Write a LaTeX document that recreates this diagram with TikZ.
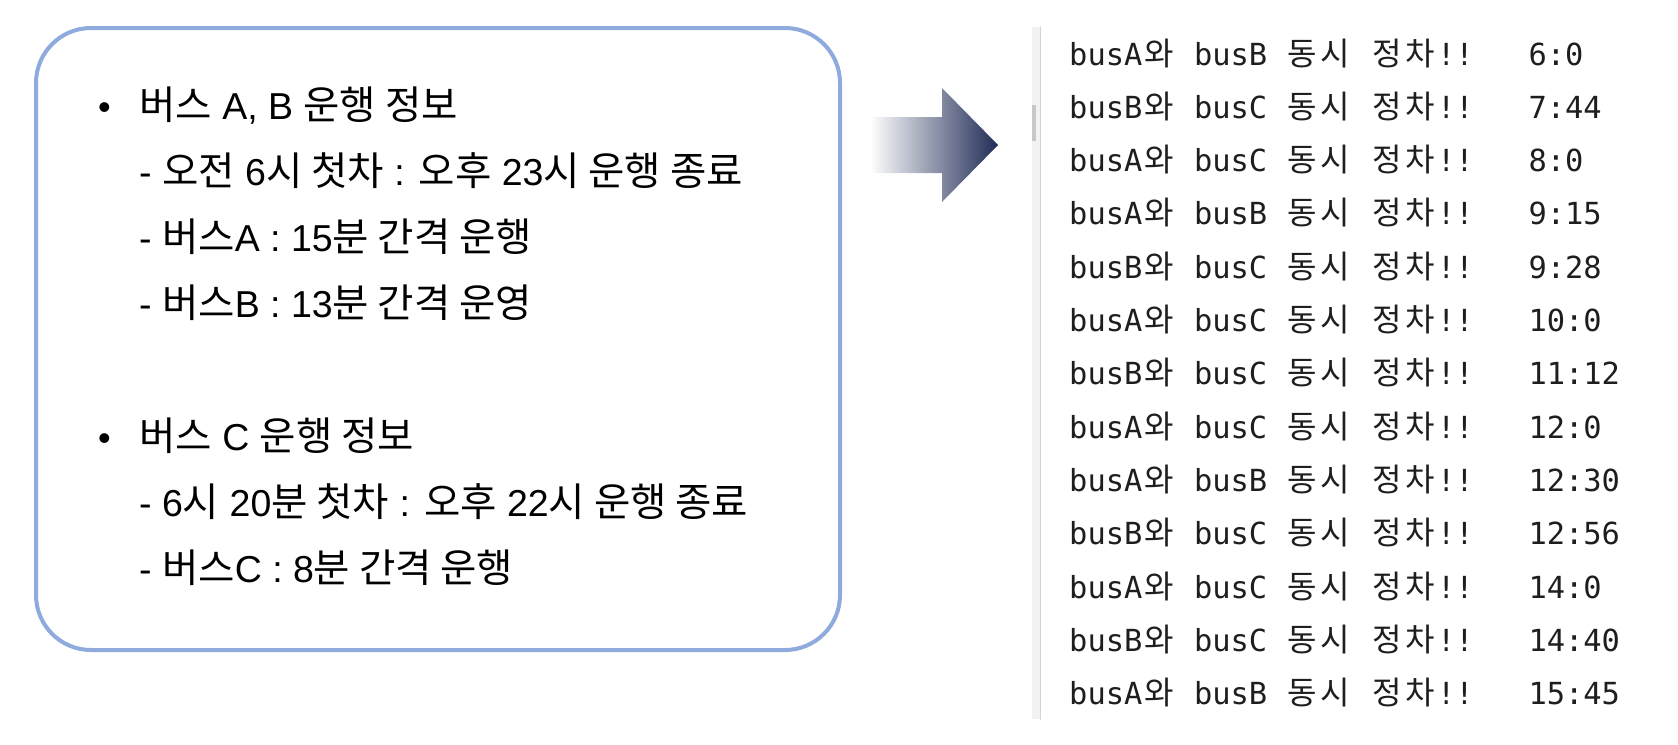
\documentclass[tikz,border=0pt]{standalone}
\usepackage{fontspec}
\setmainfont{Liberation Sans}
\setmonofont{DejaVu Sans Mono}
\newfontfamily\krfont{Noto Sans CJK KR}
\usetikzlibrary{positioning}

\definecolor{boxblue}{RGB}{143,170,220}
\definecolor{arrownavy}{RGB}{32,44,86}
\definecolor{arrowmid}{RGB}{168,176,198}
\definecolor{barfill}{RGB}{242,242,242}
\definecolor{barline}{RGB}{212,212,212}
\definecolor{barthumb}{RGB}{200,200,200}
\definecolor{consoleink}{RGB}{30,30,30}

\newlength\kw
\setlength\kw{33.3pt}
\newcommand\kr[1]{{\krfont\fontsize{39.5}{42}\selectfont #1}}
\newcommand\hw[1]{\makebox[\kw][c]{\krfont\fontsize{32}{36}\selectfont #1}}

\begin{document}
\begin{tikzpicture}[x=1pt, y=-1pt, line cap=round, line join=round,
    infoline/.style={anchor=base west, inner sep=0pt, font=\fontsize{37.5}{42}\selectfont},
    bulletdot/.style={anchor=base, inner sep=0pt, font=\fontsize{36}{40}\selectfont},
    consoleline/.style={anchor=base west, inner sep=0pt, text=consoleink, font=\ttfamily\frenchspacing\fontsize{30.4}{36}\selectfont}]
  \useasboundingbox (0,0) rectangle (1678,744);

  % info box
  \draw[boxblue, line width=4pt, rounded corners=55pt] (36,28) rectangle (840,650);

  \node[bulletdot] (dotAB) at (104.5,119) {\textbullet};
  \node[infoline] (infoAB) at (139,119) {\kr{버스} A, B \kr{운행 정보}};
  \node[infoline] (timeAB) at (139,185.3) {- \kr{오전} 6\kr{시 첫차} : \kr{오후} 23\kr{시 운행 종료}};
  \node[infoline] (gapA) at (139,251.6) {- \kr{버스}A : 15\kr{분 간격 운행}};
  \node[infoline] (gapB) at (139,317.9) {- \kr{버스}B : 13\kr{분 간격 운영}};

  \node[bulletdot] (dotC) at (104.5,450) {\textbullet};
  \node[infoline] (infoC) at (139,450) {\kr{버스} C \kr{운행 정보}};
  \node[infoline] (timeC) at (139,516.3) {- 6\kr{시} 20\kr{분 첫차} : \kr{오후} 22\kr{시 운행 종료}};
  \node[infoline] (gapC) at (139,582.6) {- \kr{버스}C : 8\kr{분 간격 운행}};

  % arrow
  \shade[left color=white, middle color=arrowmid, right color=arrownavy]
    (870,117) -- (942,117) -- (942,88) -- (998,145) -- (942,202) -- (942,173) -- (870,173) -- cycle;

  % console
  \fill[barfill] (1032,27) rectangle (1040,719);
  \draw[barline, line width=1.5pt] (1040.7,27) -- (1040.7,719);
  \fill[barthumb] (1032,105) rectangle (1036,141);

  \foreach \p/\q/\t [count=\i] in {A/B/6:0, B/C/7:44, A/C/8:0, A/B/9:15, B/C/9:28, A/C/10:0, B/C/11:12,
      A/C/12:0, A/B/12:30, B/C/12:56, A/C/14:0, B/C/14:40, A/B/15:45}
    \node[consoleline] (row\i) at (1069,{65+53.3*(\i-1)}) {bus\p\hw{와} bus\q{} \hw{동}\hw{시} \hw{정}\hw{차}!!~~~\t};
\end{tikzpicture}
\end{document}
